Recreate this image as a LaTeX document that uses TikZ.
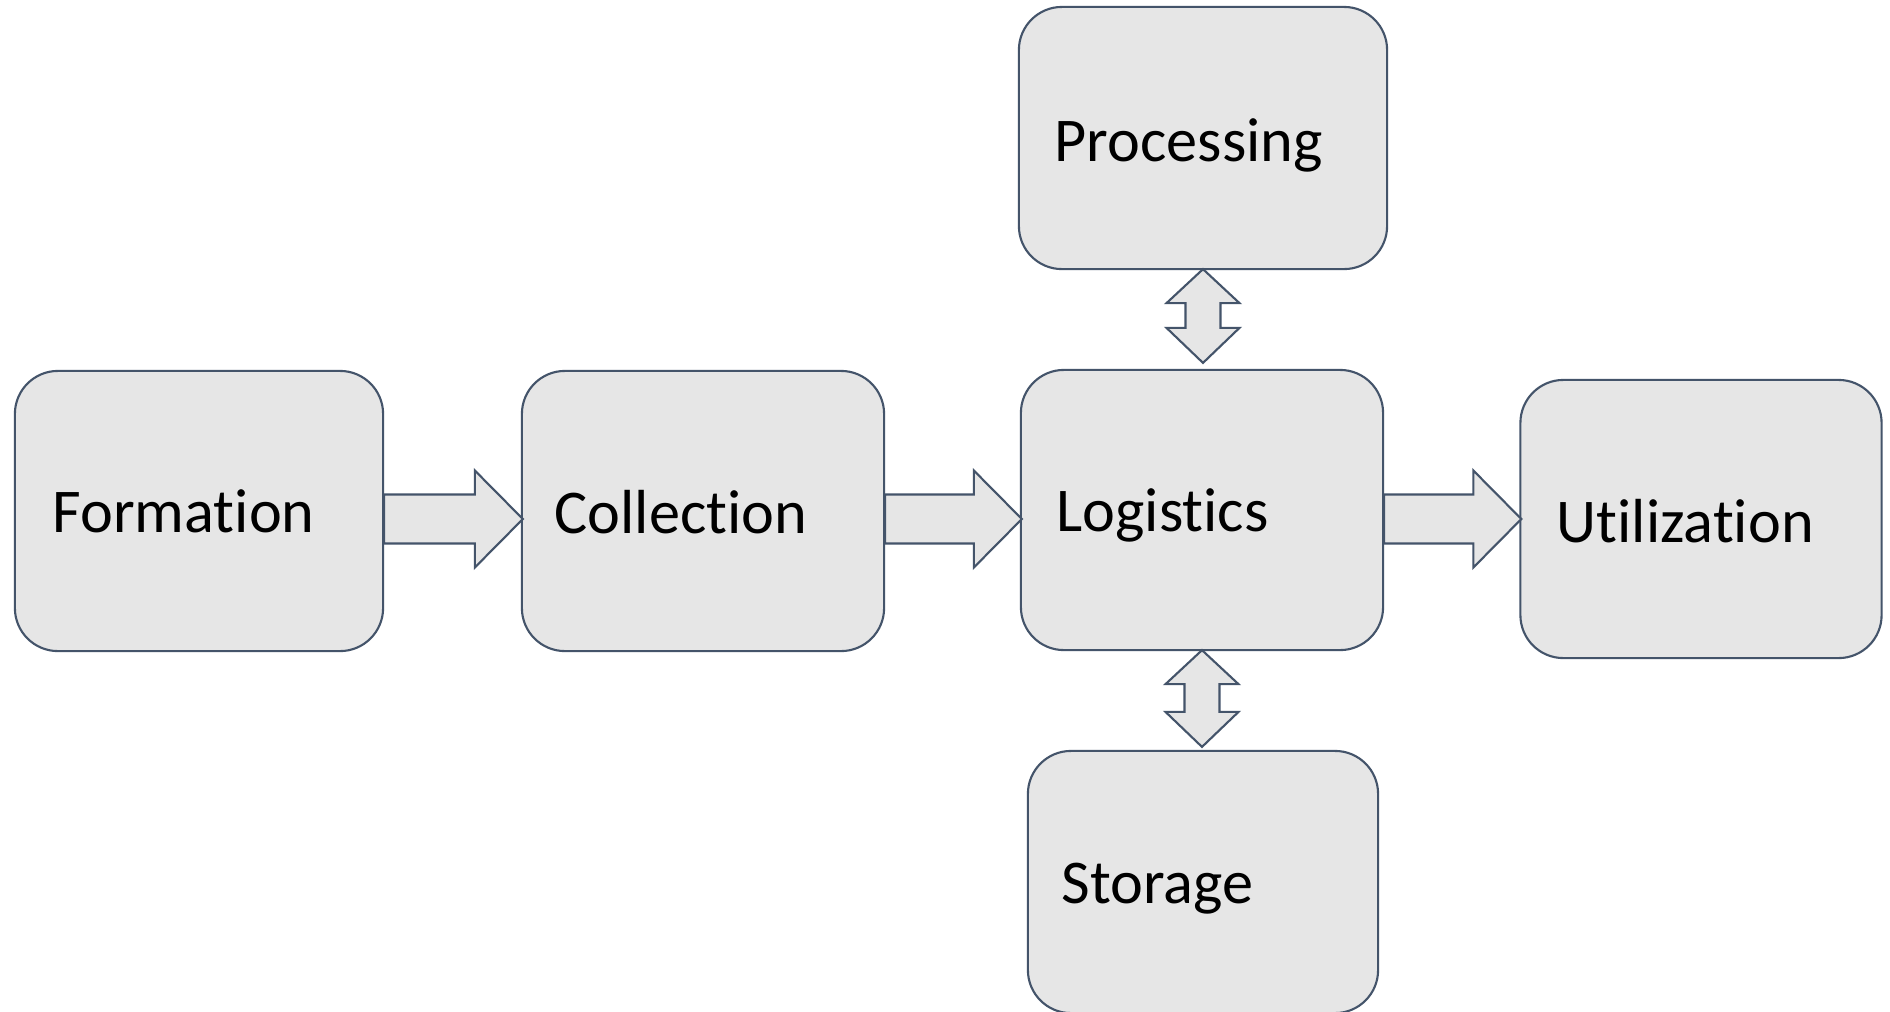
\documentclass[tikz,border=0pt]{standalone}
\usepackage{fontspec}
\setmainfont{Carlito}[Ligatures=NoCommon,RawFeature={-liga;-clig}]
\usetikzlibrary{calc}
\definecolor{edge}{HTML}{44546A}
\definecolor{boxfill}{HTML}{E6E6E6}
\tikzset{
  stage/.style={draw=edge, fill=boxfill, line width=0.6pt, rounded corners=0.43cm, inner sep=0pt},
  lbl/.style={anchor=base west, inner sep=0pt, font=\fontsize{17.7pt}{21pt}\selectfont},
  blk/.style={draw=edge, fill=boxfill, line width=0.6pt, line join=miter}
}
% horizontal block arrow: start x from #1, tip x from #2, centre y in px #3
\newcommand\hblock[3]{%
  \draw[blk] let \p1=(#1), \p2=(#2) in
    (\x1,{-#3*0.01cm+0.245cm}) -- ({\x2-0.46cm},{-#3*0.01cm+0.245cm}) --
    ({\x2-0.46cm},{-#3*0.01cm+0.485cm}) -- ({\x2+0.02cm},{-#3*0.01cm}) --
    ({\x2-0.46cm},{-#3*0.01cm-0.485cm}) -- ({\x2-0.46cm},{-#3*0.01cm-0.245cm}) --
    (\x1,{-#3*0.01cm-0.245cm}) -- cycle;}
% vertical double block arrow: top tip at #1, bottom tip at #2 shifted by #3
\newcommand\vblock[3]{%
  \draw[blk] let \p1=(#1), \p2=(#2) in
    (\x1,{\y1+0.01cm}) -- ({\x1+0.365cm},{\y1-0.33cm}) -- ({\x1+0.175cm},{\y1-0.33cm}) --
    ({\x1+0.175cm},{\y2+#3+0.35cm}) -- ({\x1+0.365cm},{\y2+#3+0.35cm}) --
    (\x1,{\y2+#3}) --
    ({\x1-0.365cm},{\y2+#3+0.35cm}) -- ({\x1-0.175cm},{\y2+#3+0.35cm}) --
    ({\x1-0.175cm},{\y1-0.33cm}) -- ({\x1-0.365cm},{\y1-0.33cm}) -- cycle;}
\begin{document}
\begin{tikzpicture}[x=0.01cm, y=-0.01cm]
\useasboundingbox (0,0) rectangle (1890,1011);
\fill[white] (0,0) rectangle (1890,1011);
% boxes
\node[stage, minimum width=3.68cm, minimum height=2.80cm] (form) at (199,511) {};
\node[stage, minimum width=3.62cm, minimum height=2.80cm] (coll) at (703,511) {};
\node[stage, minimum width=3.62cm, minimum height=2.80cm] (logi) at (1202,510) {};
\node[stage, minimum width=3.61cm, minimum height=2.78cm] (util) at (1701,519) {};
\node[stage, minimum width=3.68cm, minimum height=2.62cm] (proc) at (1203,138) {};
\node[stage, minimum width=3.50cm, minimum height=2.62cm] (stor) at (1203,882) {};
% labels
\node[lbl] (tform) at (52,532) {Formation};
\node[lbl] (tcoll) at (554,533) {Collection};
\node[lbl] (tlogi) at (1056,531) {Logistics};
\node[lbl] (tutil) at (1556,542) {Utilization};
\node[lbl] (tproc) at (1054,161) {Processing};
\node[lbl] (tstor) at (1061,903) {Storage};
% connectors
\hblock{form.east}{coll.west}{519}
\hblock{coll.east}{logi.west}{519}
\hblock{logi.east}{util.west}{519}
\vblock{proc.south}{logi.north}{0.06cm}
\vblock{logi.south}{stor.north}{0.03cm}
\end{tikzpicture}
\end{document}
